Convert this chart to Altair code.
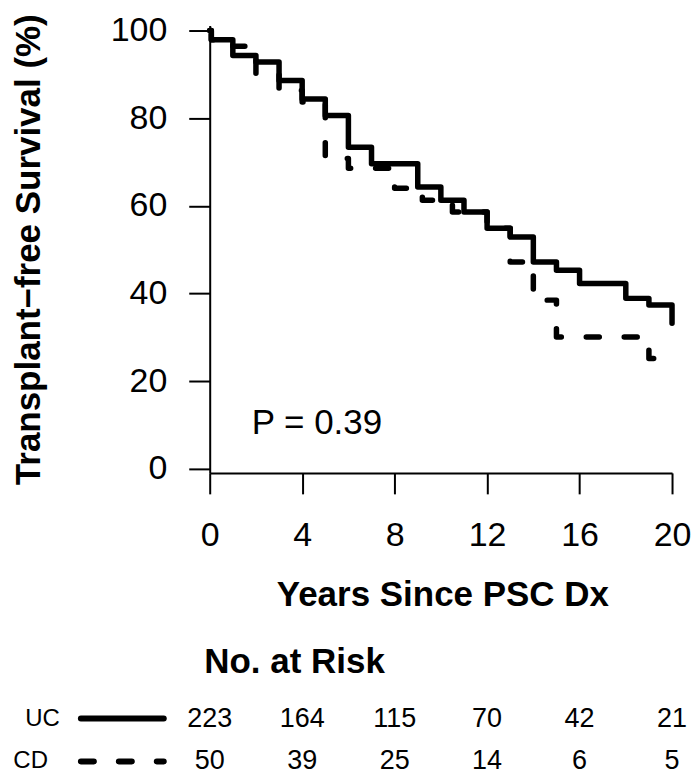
import altair as alt
import pandas as pd

# ---- data ----
uc_time = [0, 0.07, 1, 2, 3, 4, 5, 6, 7, 9, 10, 11, 12, 13, 14, 15, 16, 18, 19, 20]
uc_surv = [100, 97.9, 94.3, 92.8, 88.6, 84.4, 80.6, 73.4, 69.6, 64.3, 61.3, 58.6,
           54.9, 52.9, 47.2, 45.3, 42.3, 38.9, 37.4, 33.2]
cd_time = [0, 0.07, 1, 2, 3, 4, 5, 6, 8, 9.2, 10.5, 12, 13, 14, 15, 19, 20]
cd_surv = [100, 97.9, 96.4, 90.2, 86.3, 83.7, 70.8, 68.6, 64.0, 61.3, 58.6, 54.9,
           47.2, 38.5, 30.1, 25.2, 25.2]
risk_years = [0, 4, 8, 12, 16, 20]
uc_risk = [223, 164, 115, 70, 42, 21]
cd_risk = [50, 39, 25, 14, 6, 5]
x_ticks = [0, 4, 8, 12, 16, 20]
y_ticks = [0, 20, 40, 60, 80, 100]

FONT = "Liberation Sans"
DASH = [13, 25]

uc_df = pd.DataFrame({"t": uc_time, "s": uc_surv})
cd_df = pd.DataFrame({"t": cd_time, "s": cd_surv})
uc_risk_df = pd.DataFrame({"t": risk_years, "n": uc_risk})
cd_risk_df = pd.DataFrame({"t": risk_years, "n": cd_risk})

x_enc = alt.X(
    "t:Q",
    scale=alt.Scale(domain=[0, 20], nice=False, zero=False),
    axis=alt.Axis(values=x_ticks, title="Years Since PSC Dx",
                  titleX=233, titleY=122, titleAlign="center", titleBaseline="middle",
                  labelPadding=25),
)
y_enc = alt.Y(
    "s:Q",
    scale=alt.Scale(domain=[-0.91, 101.14], nice=False, zero=False),
    axis=alt.Axis(values=y_ticks, title="Transplant\u2212free Survival (%)",
                  titleX=-181, titleY=224, titleAngle=270, titleAlign="center",
                  titleBaseline="middle", labelPadding=22),
)

cd_line = alt.Chart(cd_df).mark_line(
    interpolate="step-after", color="black", strokeWidth=5.5,
    strokeDash=DASH, strokeCap="round", strokeJoin="round"
).encode(x=x_enc, y=y_enc)

uc_line = alt.Chart(uc_df).mark_line(
    interpolate="step-after", color="black", strokeWidth=5.5,
    strokeCap="round", strokeJoin="round"
).encode(x=x_enc, y=y_enc)

p_text = alt.Chart(pd.DataFrame({"label": ["P = 0.39"]})).mark_text(
    font=FONT, fontSize=35, color="black", align="left", baseline="middle"
).encode(x=alt.value(42), y=alt.value(398.5), text="label:N")

risk_head = alt.Chart(pd.DataFrame({"label": ["No. at Risk"]})).mark_text(
    font=FONT, fontSize=35, fontWeight="bold", color="black", align="center", baseline="middle"
).encode(x=alt.value(85), y=alt.value(637), text="label:N")

uc_nums = alt.Chart(uc_risk_df).mark_text(
    font=FONT, fontSize=27, color="black", align="center", baseline="middle"
).encode(x=x_enc, y=alt.value(694), text="n:Q")

cd_nums = alt.Chart(cd_risk_df).mark_text(
    font=FONT, fontSize=27, color="black", align="center", baseline="middle"
).encode(x=x_enc, y=alt.value(737), text="n:Q")

uc_lab = alt.Chart(pd.DataFrame({"label": ["UC"]})).mark_text(
    font=FONT, fontSize=24, color="black", align="right", baseline="middle"
).encode(x=alt.value(-150), y=alt.value(694), text="label:N")

cd_lab = alt.Chart(pd.DataFrame({"label": ["CD"]})).mark_text(
    font=FONT, fontSize=24, color="black", align="right", baseline="middle"
).encode(x=alt.value(-162), y=alt.value(737), text="label:N")

uc_key = alt.Chart(pd.DataFrame({"k": [1]})).mark_rule(
    color="black", strokeWidth=6, strokeCap="round"
).encode(x=alt.value(-129), x2=alt.value(-46), y=alt.value(694))

cd_key = alt.Chart(pd.DataFrame({"k": [1]})).mark_rule(
    color="black", strokeWidth=6, strokeCap="round", strokeDash=DASH
).encode(x=alt.value(-129), x2=alt.value(-46), y=alt.value(737))

chart = alt.layer(
    cd_line, uc_line, p_text, risk_head, uc_nums, cd_nums, uc_lab, cd_lab, uc_key, cd_key
).properties(
    width=463, height=448,
    autosize=alt.AutoSizeParams(type="none"),
    padding={"left": 202, "top": 17, "right": 20, "bottom": 306},
    background="white",
).configure_view(
    strokeWidth=0
).configure_axis(
    grid=False,
    domainColor="black", domainWidth=2,
    tickColor="black", tickWidth=2, tickSize=21,
    labelFont=FONT, labelFontSize=34, labelColor="black",
    labelFlush=False, labelOverlap=False,
    titleFont=FONT, titleFontSize=35, titleFontWeight="bold", titleColor="black",
)

chart.save("out.html", embed_options={"renderer": "svg", "actions": False})
